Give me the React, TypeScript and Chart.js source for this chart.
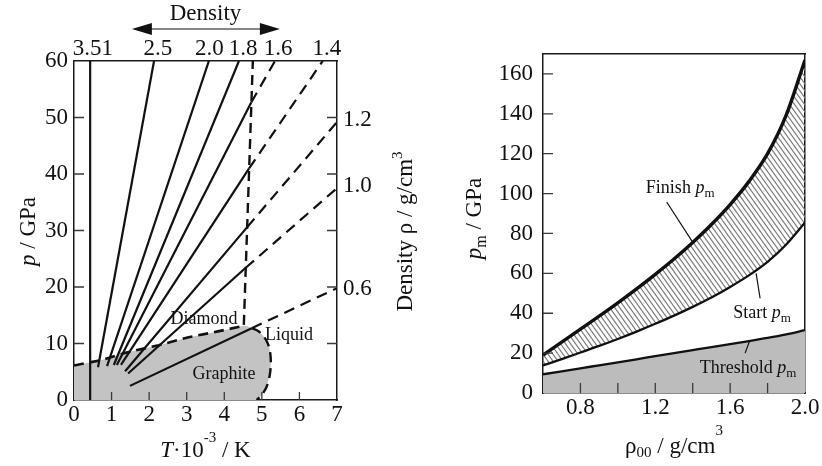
import React, { useEffect, useRef } from 'react';
import { Chart, registerables } from 'chart.js';

Chart.register(...registerables);

const FAMILY = "'Liberation Serif', 'Times New Roman', 'DejaVu Serif', serif";
const INK = '#111111';
const FRAME = '#1a1a1a';
const TICKC = '#3a3a3a';
const GREY_L = '#c3c3c3';
const GREY_R = '#bcbcbc';
const HATCH = '#7a7a7a';

// ---------------- Left chart: p–T diagram ----------------
const tempInnerTicks = [1, 2, 3, 4, 5, 6];
const pressInnerTicks = [10, 20, 30, 40, 50];
const topTickT = [0.5, 2.23, 3.6, 4.5, 5.43, 6.73];
const topTickLabels = ['3.51', '2.5', '2.0', '1.8', '1.6', '1.4'];
const rightTickP = [49.5, 37.9, 19.6];
const rightTickLabels = ['1.2', '1.0', '0.6'];

// Hugoniots for initial densities (solid part start -> break, dashed part break -> end)
const hugDensity = ['3.51', '2.5', '2.0', '1.8', '1.6', '1.4', '1.2', '1.0', '0.6'];
const hugStartT = [0.43, 0.64, 0.88, 1.06, 1.14, 1.25, 1.36, 1.44, 1.49];
const hugStartP = [0, 5.8, 6.0, 6.2, 6.2, 6.2, 5.1, 4.7, 2.5];
const hugBreakT = [0.43, 2.13, 3.59, 4.39, 4.72, 4.66, 4.61, 4.57, 4.73];
const hugBreakP = [60, 60, 60, 60, 52.7, 41.0, 30.6, 23.4, 12.7];
const hugEndT: (number | null)[] = [null, null, null, null, 5.35, 6.62, 7.0, 7.0, 7.0];
const hugEndP: (number | null)[] = [null, null, null, null, 60, 60, 49.2, 37.5, 19.8];

// Phase boundaries
const gdT = [0, 0.75, 1.4, 2.25, 3.05, 3.8, 4.5];
const gdP = [6.1, 7.1, 8.4, 9.7, 11.1, 12.1, 13.1];
const meltT = [4.52, 4.76];
const meltP = [13.3, 60];
const glT = [4.73, 4.88, 5.02, 5.13, 5.21, 5.24, 5.21, 5.13, 5.0, 4.86];
const glP = [12.7, 12.3, 11.5, 10.4, 8.9, 6.6, 4.4, 2.4, 0.9, 0];
const cornerT = [4.62];
const cornerP = [13.05];

// Region labels
const regionText = ['Diamond', 'Graphite', 'Liquid'];
const regionT = [3.46, 3.99, 5.72];
const regionP = [13.45, 3.7, 10.7];

const arrowT = [1.54, 5.48];

// ---------------- Right chart: melting pressure ----------------
const rho = [0.6, 0.7, 0.8, 0.9, 1.0, 1.1, 1.2, 1.3, 1.4, 1.5, 1.6, 1.7, 1.8, 1.9, 2.0];
const finishP = [19, 25.5, 32, 38.5, 45.2, 52.2, 59.5, 67.2, 75.5, 84.5, 94.5, 106, 120, 139.5, 167];
const startP = [13.8, 17.0, 20.3, 23.6, 27.1, 30.8, 34.7, 38.8, 43.2, 47.9, 53.2, 59.0, 65.8, 74.5, 85.5];
const thresholdP = [9.4, 10.9, 12.4, 13.9, 15.4, 16.9, 18.5, 20.0, 21.5, 23.0, 24.5, 26.0, 27.6, 29.4, 31.5];
const rhoLabelTicks = [0.8, 1.2, 1.6, 2.0];
const rhoLabelText = ['0.8', '1.2', '1.6', '2.0'];
const rhoInnerTicks = [0.8, 1.0, 1.2, 1.4, 1.6, 1.8];
const pmInnerTicks = [20, 40, 60, 80, 100, 120, 140, 160];

const noteName = ['Finish ', 'Start ', 'Threshold '];
const noteX = [1.333, 1.77, 1.696];
const noteY = [100.2, 37.7, 10.2];
const leaderX0 = [1.261, 1.76, 1.68];
const leaderY0 = [95.8, 47.5, 20];
const leaderX1 = [1.404, 1.739, 1.703];
const leaderY1 = [75, 60, 25.8];

// ---------------- helpers ----------------
type Part = { t: string; it?: boolean; s?: number; dy?: number };

function rich(ctx: CanvasRenderingContext2D, parts: Part[], x: number, y: number, size: number, align: 'left' | 'center' = 'center', rot = 0) {
  ctx.save();
  ctx.translate(x, y);
  if (rot) ctx.rotate(rot);
  ctx.fillStyle = INK;
  ctx.textBaseline = 'alphabetic';
  ctx.textAlign = 'left';
  const font = (p: Part) => `${p.it ? 'italic ' : ''}${p.s ?? size}px ${FAMILY}`;
  let w = 0;
  for (const p of parts) {
    ctx.font = font(p);
    w += ctx.measureText(p.t).width;
  }
  let cx = align === 'center' ? -w / 2 : 0;
  for (const p of parts) {
    ctx.font = font(p);
    ctx.fillText(p.t, cx, p.dy ?? 0);
    cx += ctx.measureText(p.t).width;
  }
  ctx.restore();
}

type TickSpec = { scale: string; side: 'bottom' | 'left' | 'right'; values: number[]; len: number };
function innerTicks(chart: any, specs: TickSpec[]) {
  const { ctx, chartArea: a } = chart;
  ctx.save();
  ctx.strokeStyle = TICKC;
  ctx.lineWidth = 1.3;
  ctx.beginPath();
  for (const s of specs) {
    const sc = chart.scales[s.scale];
    for (const v of s.values) {
      const p = sc.getPixelForValue(v);
      if (s.side === 'bottom') {
        ctx.moveTo(p, a.bottom);
        ctx.lineTo(p, a.bottom - s.len);
      } else if (s.side === 'left') {
        ctx.moveTo(a.left, p);
        ctx.lineTo(a.left + s.len, p);
      } else {
        ctx.moveTo(a.right, p);
        ctx.lineTo(a.right - s.len, p);
      }
    }
  }
  ctx.stroke();
  ctx.restore();
}

const fix = (prop: 'width' | 'height', v: number) => (s: any) => {
  s[prop] = v;
};

const tickFont = { family: FAMILY, size: 23 };
const border = { display: true, color: FRAME, width: 1.5 };
const noGrid = { display: false, drawTicks: false };

const pts = (xs: number[], ys: number[]) => xs.map((x, i) => ({ x, y: ys[i] }));

function lineDs(data: any[], opts: any = {}) {
  return {
    type: 'line',
    data,
    borderColor: INK,
    borderWidth: 2.2,
    pointRadius: 0,
    fill: false,
    tension: 0,
    xAxisID: 'x',
    yAxisID: 'y',
    ...opts,
  };
}

// ---------------- configs ----------------
function leftConfig(): any {
  const datasets: any[] = [];
  hugDensity.forEach((_, i) => {
    datasets.push(lineDs([{ x: hugStartT[i], y: hugStartP[i] }, { x: hugBreakT[i], y: hugBreakP[i] }]));
    if (hugEndT[i] !== null) {
      datasets.push(
        lineDs([{ x: hugBreakT[i], y: hugBreakP[i] }, { x: hugEndT[i], y: hugEndP[i] }], { borderDash: [11, 7] })
      );
    }
  });
  datasets.push(lineDs(pts(gdT, gdP), { borderDash: [10, 6], borderWidth: 2.6 }));
  datasets.push(lineDs(pts(meltT, meltP), { borderDash: [10, 6], borderWidth: 2.4 }));
  datasets.push(lineDs(pts(glT, glP), { borderDash: [10, 6], borderWidth: 2.4, tension: 0.3 }));

  const plugin = {
    id: 'leftDecor',
    beforeDatasetsDraw(chart: any) {
      const { ctx } = chart;
      const x = chart.scales.x;
      const y = chart.scales.y;
      const regT = [...gdT, ...cornerT, ...glT];
      const regP = [...gdP, ...cornerP, ...glP];
      ctx.save();
      ctx.beginPath();
      ctx.moveTo(x.getPixelForValue(0), y.getPixelForValue(0));
      regT.forEach((t, i) => ctx.lineTo(x.getPixelForValue(t), y.getPixelForValue(regP[i])));
      ctx.closePath();
      ctx.fillStyle = GREY_L;
      ctx.fill();
      ctx.restore();
    },
    afterDraw(chart: any) {
      const { ctx, chartArea: a } = chart;
      const x = chart.scales.x;
      const y = chart.scales.y;
      innerTicks(chart, [
        { scale: 'x', side: 'bottom', values: tempInnerTicks, len: 8 },
        { scale: 'y', side: 'left', values: pressInnerTicks, len: 10 },
        { scale: 'y', side: 'right', values: pressInnerTicks, len: 10 },
      ]);
      regionText.forEach((t, i) => {
        rich(ctx, [{ t }], x.getPixelForValue(regionT[i]), y.getPixelForValue(regionP[i]), 18);
      });
      // Density arrow
      const xt = chart.scales.xTop;
      const x1 = xt.getPixelForValue(arrowT[0]);
      const x2 = xt.getPixelForValue(arrowT[1]);
      const ay = a.top - 32;
      ctx.save();
      ctx.strokeStyle = INK;
      ctx.fillStyle = INK;
      ctx.lineWidth = 1.2;
      ctx.beginPath();
      ctx.moveTo(x1 + 10, ay);
      ctx.lineTo(x2 - 10, ay);
      ctx.stroke();
      ctx.beginPath();
      ctx.moveTo(x1, ay);
      ctx.lineTo(x1 + 20, ay - 6);
      ctx.lineTo(x1 + 20, ay + 6);
      ctx.closePath();
      ctx.fill();
      ctx.beginPath();
      ctx.moveTo(x2, ay);
      ctx.lineTo(x2 - 20, ay - 6);
      ctx.lineTo(x2 - 20, ay + 6);
      ctx.closePath();
      ctx.fill();
      ctx.restore();
      const cx = (a.left + a.right) / 2;
      rich(ctx, [{ t: 'Density' }], cx, a.top - 41, 23);
      // axis titles
      rich(ctx, [{ t: 'T', it: true }, { t: '\u00B710' }, { t: '-3', s: 15, dy: -15 }, { t: ' / K' }], cx, a.bottom + 57, 23);
      rich(ctx, [{ t: 'p', it: true }, { t: ' / GPa' }], a.left - 39, (a.top + a.bottom) / 2 + 1, 23, 'center', -Math.PI / 2);
      rich(ctx, [{ t: 'Density \u03C1 / g/cm' }, { t: '3', s: 15, dy: -10 }], a.right + 75, (a.top + a.bottom) / 2 + 1, 23, 'center', -Math.PI / 2);
    },
  };

  return {
    type: 'line',
    data: { datasets },
    plugins: [plugin],
    options: {
      responsive: false,
      animation: false,
      devicePixelRatio: 1,
      layout: { padding: 0 },
      plugins: { legend: { display: false }, tooltip: { enabled: false } },
      scales: {
        x: {
          type: 'linear', position: 'bottom', min: 0, max: 7, z: 1,
          afterFit: fix('height', 66),
          ticks: { stepSize: 1, font: tickFont, color: INK, padding: 1, maxRotation: 0, autoSkip: false },
          grid: noGrid, border,
        },
        xTop: {
          type: 'linear', position: 'top', min: 0, max: 7, z: 1,
          afterFit: fix('height', 61),
          afterBuildTicks: (s: any) => { s.ticks = topTickT.map((v) => ({ value: v })); },
          ticks: { callback: (_v: any, i: number) => topTickLabels[i], font: tickFont, color: INK, padding: -2, maxRotation: 0, autoSkip: false },
          grid: noGrid, border,
        },
        y: {
          type: 'linear', position: 'left', min: 0, max: 60, z: 1,
          afterFit: fix('width', 74),
          ticks: { stepSize: 10, font: tickFont, color: INK, padding: 6 },
          grid: noGrid, border,
        },
        yRight: {
          type: 'linear', position: 'right', min: 0, max: 60, z: 1,
          afterFit: fix('width', 93),
          afterBuildTicks: (s: any) => { s.ticks = rightTickP.map((v) => ({ value: v })); },
          ticks: { callback: (_v: any, i: number) => rightTickLabels[i], font: tickFont, color: INK, padding: 6, autoSkip: false },
          grid: noGrid, border,
        },
      },
    },
  };
}

function makeHatch(): CanvasPattern | string {
  const pc = document.createElement('canvas');
  const w = 5;
  const h = 7;
  pc.width = w;
  pc.height = h;
  const g = pc.getContext('2d');
  if (!g) return HATCH;
  g.strokeStyle = HATCH;
  g.lineWidth = 1.2;
  for (const k of [-1, 0, 1]) {
    g.beginPath();
    g.moveTo(k * w - w, -h);
    g.lineTo(k * w + 2 * w, 2 * h);
    g.stroke();
  }
  return g.createPattern(pc, 'repeat') || HATCH;
}

function rightConfig(): any {
  const hatch = makeHatch();
  const datasets: any[] = [
    lineDs(pts(rho, finishP), { borderWidth: 3.4, cubicInterpolationMode: 'monotone', fill: '+1', backgroundColor: hatch }),
    lineDs(pts(rho, startP), { borderWidth: 2.3, cubicInterpolationMode: 'monotone', order: -1 }),
    lineDs(pts(rho, thresholdP), { borderWidth: 2.3, cubicInterpolationMode: 'monotone', fill: 'origin', backgroundColor: GREY_R }),
  ];
  noteName.forEach((_, i) => {
    datasets.push(lineDs([{ x: leaderX0[i], y: leaderY0[i] }, { x: leaderX1[i], y: leaderY1[i] }], { borderWidth: 1.2, order: -2 }));
  });

  const plugin = {
    id: 'rightDecor',
    afterDraw(chart: any) {
      const { ctx, chartArea: a } = chart;
      const x = chart.scales.x;
      const y = chart.scales.y;
      innerTicks(chart, [
        { scale: 'x', side: 'bottom', values: rhoInnerTicks, len: 10 },
        { scale: 'y', side: 'left', values: pmInnerTicks, len: 10 },
      ]);
      noteName.forEach((n, i) => {
        rich(ctx, [{ t: n }, { t: 'p', it: true }, { t: 'm', s: 13, dy: 4 }], x.getPixelForValue(noteX[i]), y.getPixelForValue(noteY[i]), 18);
      });
      const cx = (a.left + a.right) / 2;
      rich(ctx, [{ t: '\u03C1' }, { t: '00', s: 15, dy: 4 }, { t: ' / g/cm' }, { t: '3', s: 15, dy: -18 }], cx, a.bottom + 60, 23);
      rich(ctx, [{ t: 'p', it: true }, { t: 'm', s: 16, dy: 5 }, { t: ' / GPa' }], a.left - 62, (a.top + a.bottom) / 2 - 5, 23, 'center', -Math.PI / 2);
    },
  };

  return {
    type: 'line',
    data: { datasets },
    plugins: [plugin],
    options: {
      responsive: false,
      animation: false,
      devicePixelRatio: 1,
      layout: { padding: 0 },
      plugins: { legend: { display: false }, tooltip: { enabled: false } },
      scales: {
        x: {
          type: 'linear', position: 'bottom', min: 0.6, max: 2.0, z: 1,
          afterFit: fix('height', 73),
          afterBuildTicks: (s: any) => { s.ticks = rhoLabelTicks.map((v) => ({ value: v })); },
          ticks: { callback: (_v: any, i: number) => rhoLabelText[i], font: tickFont, color: INK, padding: 1, maxRotation: 0, autoSkip: false },
          grid: noGrid, border,
        },
        xTop: {
          type: 'linear', position: 'top', min: 0.6, max: 2.0, z: 1,
          afterFit: fix('height', 54),
          ticks: { display: false },
          grid: noGrid, border,
        },
        y: {
          type: 'linear', position: 'left', min: 0, max: 170, z: 1,
          afterFit: fix('width', 113),
          ticks: { stepSize: 20, includeBounds: false, font: tickFont, color: INK, padding: 10 },
          grid: noGrid, border,
        },
        yRight: {
          type: 'linear', position: 'right', min: 0, max: 170, z: 1,
          afterFit: fix('width', 17),
          ticks: { display: false },
          grid: noGrid, border,
        },
      },
    },
  };
}

export default function App() {
  const leftRef = useRef<HTMLCanvasElement>(null);
  const rightRef = useRef<HTMLCanvasElement>(null);
  useEffect(() => {
    const c1 = new Chart(leftRef.current as HTMLCanvasElement, leftConfig());
    const c2 = new Chart(rightRef.current as HTMLCanvasElement, rightConfig());
    return () => {
      c1.destroy();
      c2.destroy();
    };
  }, []);
  return (
    <div style={{ position: 'fixed', left: 0, top: 0, width: 822, height: 466, background: '#ffffff' }}>
      <canvas ref={leftRef} width={430} height={466} style={{ position: 'absolute', left: 0, top: 0, width: 430, height: 466 }} />
      <canvas ref={rightRef} width={392} height={466} style={{ position: 'absolute', left: 430, top: 0, width: 392, height: 466 }} />
    </div>
  );
}
